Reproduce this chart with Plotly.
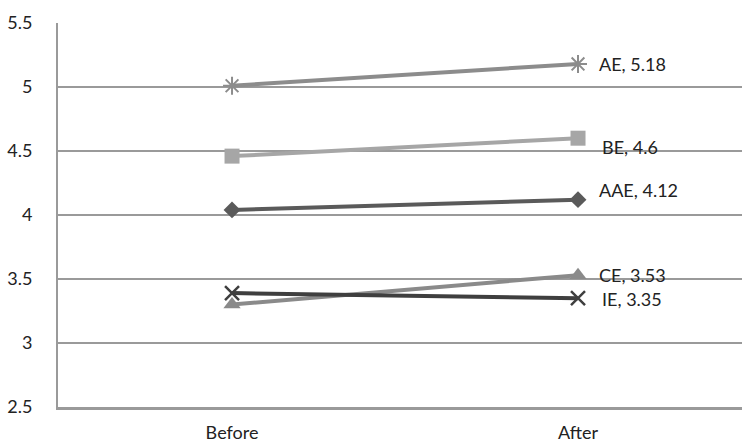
import plotly.graph_objects as go

# Category labels and scores per group
categories = ["Before", "After"]
series_names = ["AE", "BE", "AAE", "CE", "IE"]
ae_values = [5.01, 5.18]
be_values = [4.46, 4.6]
aae_values = [4.04, 4.12]
ce_values = [3.30, 3.53]
ie_values = [3.39, 3.35]
y_ticks = [2.5, 3, 3.5, 4, 4.5, 5, 5.5]

series_values = [ae_values, be_values, aae_values, ce_values, ie_values]
styles = [
    dict(color="#8c8c8c", symbol="asterisk-open", size=15, lw=2),
    dict(color="#a6a6a6", symbol="square", size=15, lw=0),
    dict(color="#5a5a5a", symbol="diamond", size=13, lw=0),
    dict(color="#8a8a8a", symbol="triangle-up", size=15, lw=0),
    dict(color="#3f3f3f", symbol="x-thin-open", size=14, lw=2.5),
]
# label offsets (px) for the end-point data labels
label_shift = [(19, 0), (22, -9), (19, 10), (19, 0), (22, -1)]

FONT = "Lato, Open Sans, sans-serif"
TEXT_COLOR = "#222222"

x_pos = list(range(len(categories)))
fig = go.Figure()
for name, vals, st in zip(series_names, series_values, styles):
    fig.add_trace(go.Scatter(
        x=x_pos, y=vals, mode="lines+markers", name=name,
        line=dict(color=st["color"], width=4),
        marker=dict(symbol=st["symbol"], size=st["size"], color=st["color"],
                    line=dict(color=st["color"], width=st["lw"])),
        showlegend=False,
    ))

for name, vals, (dx, dy) in zip(series_names, series_values, label_shift):
    fig.add_annotation(
        x=x_pos[-1], y=vals[-1], text=f"{name}, {vals[-1]:g}",
        showarrow=False, xanchor="left", yanchor="middle",
        xshift=dx, yshift=dy,
        font=dict(family=FONT, size=18, color=TEXT_COLOR),
    )

fig.update_layout(
    width=742, height=444,
    margin=dict(l=58, r=0, t=23, b=37),
    plot_bgcolor="white", paper_bgcolor="white",
    font=dict(family=FONT, size=18, color=TEXT_COLOR),
)
fig.update_xaxes(
    range=[-0.503, 1.474], tickmode="array", tickvals=x_pos, ticktext=categories,
    showgrid=False, zeroline=False, ticks="",
    showline=True, linecolor="#9a9a9a", linewidth=2.5,
    ticklabelstandoff=8, automargin=False,
)
fig.update_yaxes(
    range=[2.5, 5.5], tickmode="array", tickvals=y_ticks,
    ticktext=[f"{v:g}" for v in y_ticks],
    showgrid=True, gridcolor="#9a9a9a", gridwidth=2,
    showline=True, linecolor="#9a9a9a", linewidth=2,
    zeroline=False, ticks="outside", ticklen=0, tickcolor="rgba(0,0,0,0)",
    ticklabelstandoff=20, automargin=False,
)

fig.write_html("out.html")
